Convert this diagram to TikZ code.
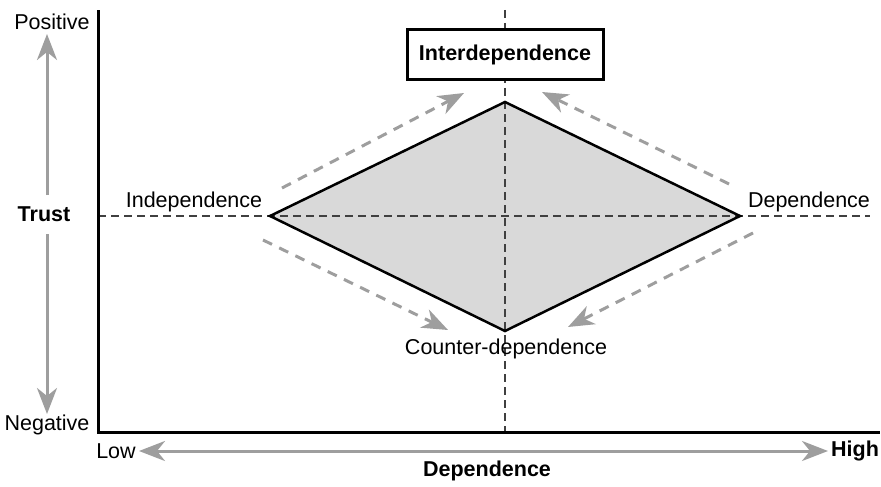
\documentclass[tikz,border=0pt]{standalone}
\usepackage{fontspec}
\setmainfont{Liberation Sans}
\usetikzlibrary{arrows.meta}
\definecolor{arrowgray}{HTML}{9E9E9E}
\definecolor{fillgray}{HTML}{D9D9D9}
\tikzset{
  lbl/.style={inner sep=0pt, font=\fontsize{21.5}{25}\selectfont},
  blbl/.style={lbl, font=\fontsize{21.5}{25}\selectfont\bfseries},
  axisline/.style={line width=3pt, black},
  guide/.style={line width=1.2pt, black!75, dash pattern=on 8pt off 5pt},
  grayarrow/.style={line width=3pt, arrowgray, -{Stealth[length=26pt, width=20pt, inset=8pt]}},
  dasharrow/.style={line width=3pt, arrowgray, dash pattern=on 10pt off 8pt, -{Stealth[length=26pt, width=20pt, inset=8pt]}},
  diamondline/.style={line width=2.5pt, black, line join=miter},
  boxstyle/.style={draw, line width=3pt, fill=white, minimum width=196pt, minimum height=50pt, inner sep=0pt, font=\fontsize{21.5}{25}\selectfont\bfseries}
}
\begin{document}
\begin{tikzpicture}[x=1pt,y=-1pt]
\useasboundingbox (0,0) rectangle (881,487);
% corners
\coordinate (axtop) at (98,12);
\coordinate (origin) at (98,432);
\coordinate (axright) at (878,432);
\coordinate (L) at (270,216);
\coordinate (T) at (505,102);
\coordinate (R) at (740,216);
\coordinate (B) at (505,331);
\coordinate (hgl) at (98,216);
\coordinate (hgr) at (870,216);
\coordinate (vgt) at (505,10);
\coordinate (vgb) at (505,432);
% diamond
\fill[fillgray] (L) -- (T) -- (R) -- (B) -- cycle;
% guides
\draw[guide] (hgl) -- (hgr);
\draw[guide] (vgt) -- (vgb);
\draw[diamondline] (L) -- (T) -- (R) -- (B) -- cycle;
% axes
\draw[axisline, line cap=rect] (axtop) -- (origin) -- (axright);
% box
\node[boxstyle] (inter) at (505,55) {Interdependence};
% labels
\node[lbl] (pos) at (52,22) {Positive};
\node[blbl] (trust) at (44,214) {Trust};
\node[lbl] (neg) at (47,425) {Negative};
\node[lbl] (low) at (116,451) {Low};
\node[blbl] (high) at (855,451) {High};
\node[blbl] (dep) at (487,471) {Dependence};
\node[lbl] (indep) at (194,202) {Independence};
\node[lbl] (depr) at (809,202) {Dependence};
\node[lbl] (counter) at (506,349) {Counter-dependence};
% gray axis arrows
\coordinate (ua1) at (47,195);
\coordinate (ua2) at (47,34);
\coordinate (la1) at (47,234);
\coordinate (la2) at (47,414);
\coordinate (hx1) at (484,451);
\coordinate (hxl) at (139,451);
\coordinate (hxr) at (828,451);
\draw[grayarrow] (ua1) -- (ua2);
\draw[grayarrow] (la1) -- (la2);
\draw[grayarrow] (hx1) -- (hxl);
\draw[grayarrow] (hx1) -- (hxr);
% dashed arrows
\coordinate (d1a) at (282,188);
\coordinate (d1b) at (464,93);
\coordinate (d2a) at (729,184);
\coordinate (d2b) at (542,92);
\coordinate (d3a) at (263,240);
\coordinate (d3b) at (448,330);
\coordinate (d4a) at (753,233);
\coordinate (d4b) at (568,327);
\draw[dasharrow] (d1a) -- (d1b);
\draw[dasharrow] (d2a) -- (d2b);
\draw[dasharrow] (d3a) -- (d3b);
\draw[dasharrow] (d4a) -- (d4b);
\end{tikzpicture}
\end{document}
